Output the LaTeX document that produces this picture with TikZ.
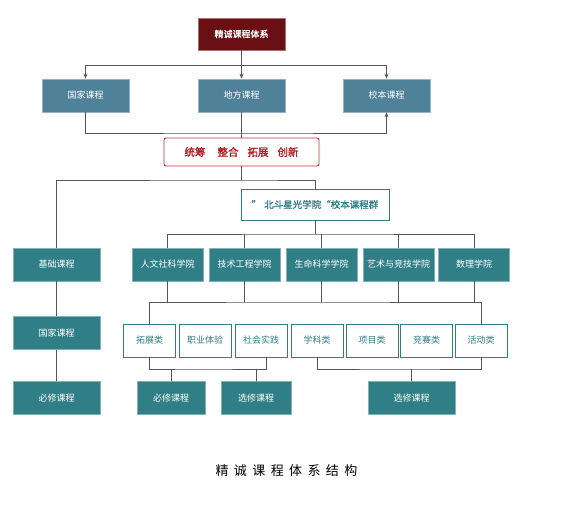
\documentclass[tikz,border=0pt]{standalone}
\usepackage{fontspec}
\newfontfamily\cjk{Noto Sans CJK SC}
\newfontfamily\cjkb{Noto Sans CJK SC}[FakeBold=1.5]
\usetikzlibrary{arrows.meta}
\definecolor{dred}{HTML}{6A0F14}
\definecolor{sblue}{HTML}{4F8199}
\definecolor{teal2}{HTML}{317F86}
\definecolor{rborder}{HTML}{C8323A}
\definecolor{rtext}{HTML}{B01E24}
\definecolor{lgray}{HTML}{555555}
\begin{document}
\begin{tikzpicture}[x=1pt,y=-1pt,
  base/.style={inner sep=0pt,align=center,font=\cjk\fontsize{9}{10}\selectfont},
  topbox/.style={base,fill=dred,text=white,draw=dred!60!white,line width=0.6pt,minimum width=87pt,minimum height=32pt,font=\cjkb\fontsize{9}{10}\selectfont},
  bluebox/.style={base,fill=sblue,text=white,draw=sblue!60!white,line width=0.6pt,minimum width=87pt,minimum height=33pt},
  tealbox/.style={base,fill=teal2,text=white,draw=teal2!60!white,line width=0.6pt,minimum height=33pt},
  catbox/.style={base,fill=white,text=teal2,draw=teal2,line width=0.8pt,minimum width=52pt,minimum height=33pt},
  redbox/.style={base,fill=white,draw=rborder,line width=0.9pt,rounded corners=2pt,minimum width=155pt,minimum height=28pt,text=rtext,font=\cjkb\fontsize{10.5}{12}\selectfont},
  bdbox/.style={base,fill=white,draw=teal2,line width=0.9pt,minimum width=148pt,minimum height=31pt,text=teal2,font=\cjkb\fontsize{9.5}{11}\selectfont},
  ln/.style={draw=lgray,line width=0.8pt},
  arr/.style={ln,-{Stealth[length=5pt,width=4pt]}}
]
\useasboundingbox (0,0) rectangle (578,510);
\fill[white] (0,0) rectangle (578,510);

% top
\node[topbox] (top) at (241.5,34) {精诚课程体系};
\node[bluebox] (gj) at (85.5,95.5) {国家课程};
\node[bluebox] (df) at (241.5,95.5) {地方课程};
\node[bluebox] (xb) at (386.5,95.5) {校本课程};
\coordinate (j1) at (241.5,65);
\coordinate (b1) at (241.5,133);
\draw[ln] (top.south) -- (j1);
\draw[arr] (j1) -- (df.north);
\draw[arr] (j1) -| (gj.north);
\draw[arr] (j1) -| (xb.north);
\draw[arr] (gj.south) |- (b1) -| (xb.south);

\node[redbox] (red) at (241.5,152) {统筹\hspace{12pt}整合\hspace{9pt}拓展\hspace{9pt}创新};
\draw[ln] (df.south) -- (red.north);

\node[bdbox] (bd) at (315,204.5) {”\hspace{3pt}北斗星光学院“校本课程群};

% left column
\node[tealbox,minimum width=87pt] (jc) at (56.5,264.5) {基础课程};
\node[tealbox,minimum width=87pt] (gj2) at (56.5,333) {国家课程};
\node[tealbox,minimum width=87pt] (bx) at (56.5,398) {必修课程};
\draw[ln] (jc.south) -- (gj2.north);
\draw[ln] (gj2.south) -- (bx.north);

\coordinate (j2) at (241.5,180);
\draw[ln] (red.south) -- (j2);
\draw[ln] (jc.north) |- (j2) -| (bd.north);

% colleges
\node[tealbox,minimum width=71pt] (c1) at (167.5,264.5) {人文社科学院};
\node[tealbox,minimum width=71pt] (c2) at (244.5,264.5) {技术工程学院};
\node[tealbox,minimum width=71pt] (c3) at (321.5,264.5) {生命科学学院};
\node[tealbox,minimum width=71pt] (c4) at (398.5,264.5) {艺术与竞技学院};
\node[tealbox,minimum width=71pt] (c5) at (474,264.5) {数理学院};
\coordinate (j3) at (315,234);
\draw[ln] (bd.south) -- (j3);
\draw[ln] (c1.north) |- (j3) -| (c5.north);
\draw[ln] (c2.north) -- (c2.north |- j3);
\draw[ln] (c3.north) -- (c3.north |- j3);
\draw[ln] (c4.north) -- (c4.north |- j3);

% categories
\node[catbox] (k1) at (149.5,340.5) {拓展类};
\node[catbox] (k2) at (205,340.5) {职业体验};
\node[catbox] (k3) at (261,340.5) {社会实践};
\node[catbox] (k4) at (317,340.5) {学科类};
\node[catbox] (k5) at (372,340.5) {项目类};
\node[catbox] (k6) at (426.5,340.5) {竞赛类};
\node[catbox] (k7) at (481,340.5) {活动类};
\coordinate (j4) at (300,302);
\draw[ln] (k1.north) |- (j4) -| (k7.north);
\foreach \c in {c1,c2,c3,c4,c5} \draw[ln] (\c.south) -- (\c.south |- j4);

% bottom
\node[tealbox,minimum width=68pt] (bx1) at (171,398) {必修课程};
\node[tealbox,minimum width=70pt] (xx1) at (256,398) {选修课程};
\node[tealbox,minimum width=87pt] (xx2) at (411.5,398) {选修课程};
\coordinate (j5) at (200,369);
\coordinate (j6) at (400,369);
\draw[ln] (k1.south) |- (j5) -| ([xshift=5pt]k3.south);
\draw[ln] (bx1.north) -- (bx1.north |- j5);
\draw[ln] (xx1.north) -- (xx1.north |- j5);
\draw[ln] (k4.south) |- (j6) -| (k7.south);
\draw[ln] (xx2.north) -- (xx2.north |- j6);

% caption
\node[inner sep=0pt,font=\cjk\fontsize{13}{14}\selectfont] (cap) at (286.5,471) {精\hspace{5.4pt}诚\hspace{5.4pt}课\hspace{5.4pt}程\hspace{5.4pt}体\hspace{5.4pt}系\hspace{5.4pt}结\hspace{5.4pt}构};
\end{tikzpicture}
\end{document}
